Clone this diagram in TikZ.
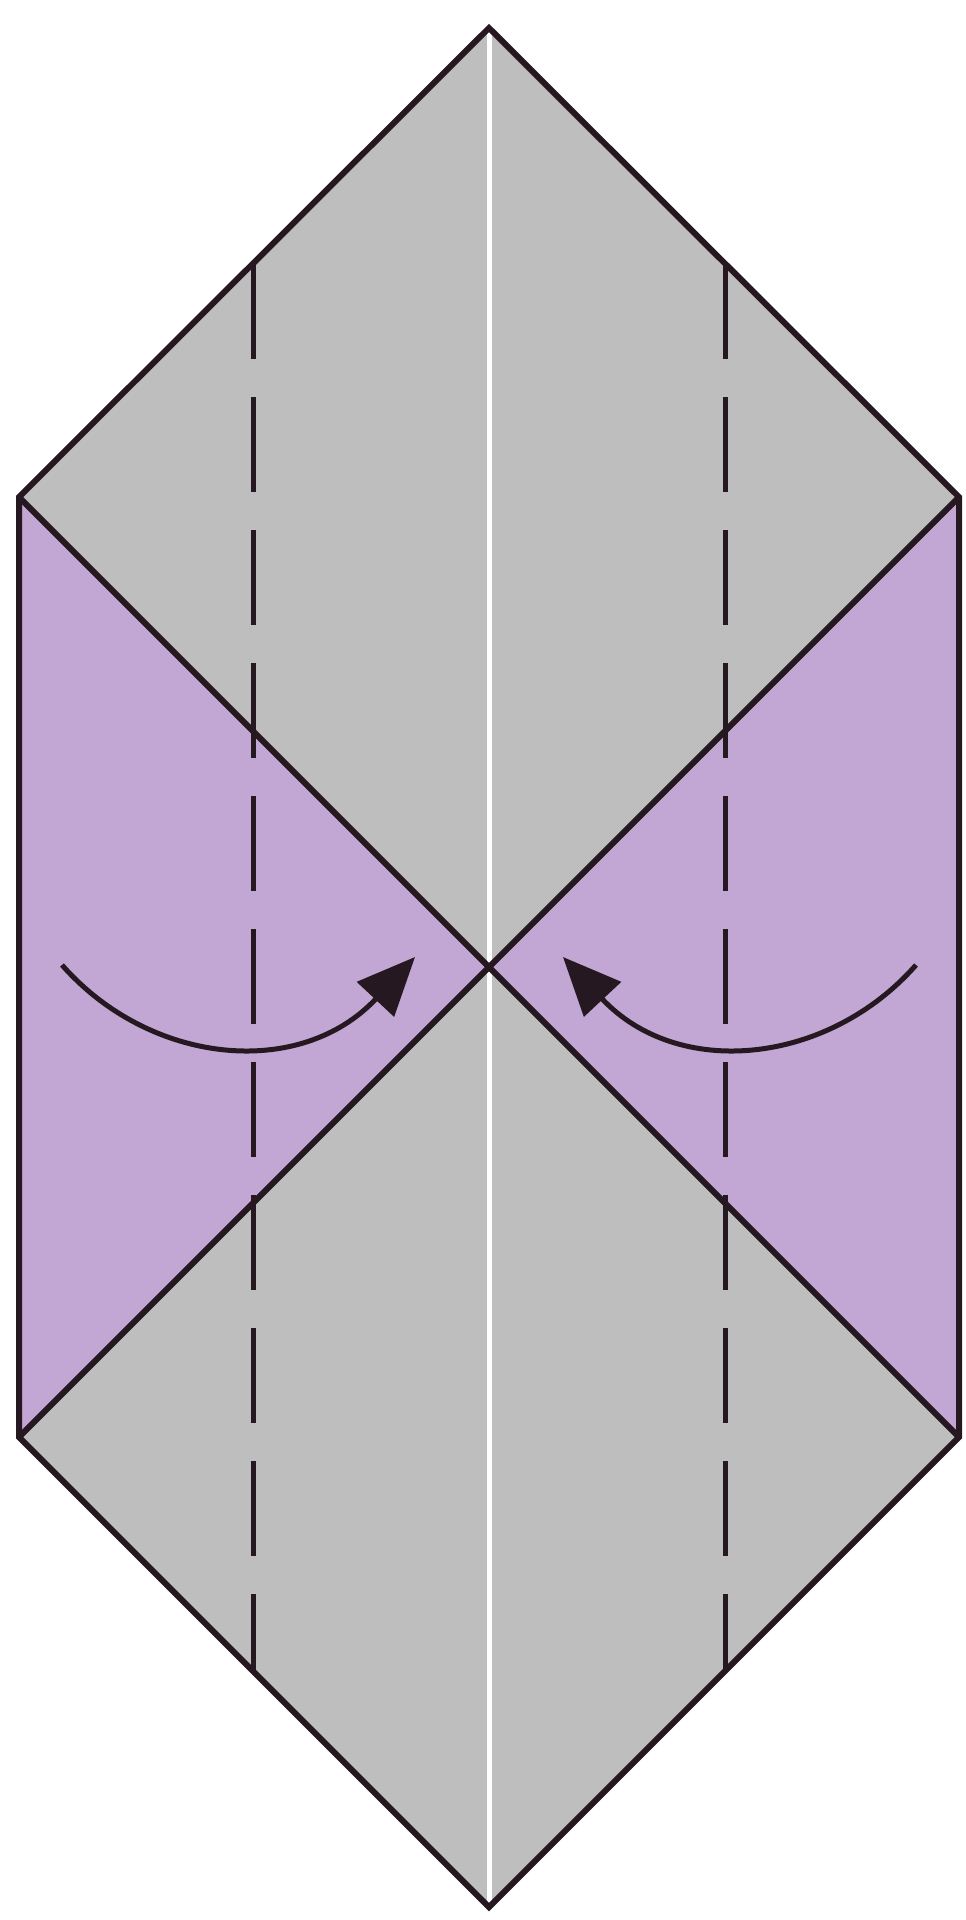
\documentclass[tikz,border=0pt]{standalone}
\usepackage{xcolor}
\usepackage{tikz}
\usetikzlibrary{
	arrows.meta,
	calc
}
\definecolor{papergray}{RGB}{190,190,190}
\definecolor{paperlilac}{RGB}{194,166,211}
\definecolor{inkdark}{RGB}{38,24,32}
\tikzset{
	edge/.style={line width=6pt, draw=inkdark, line join=miter},
	valley/.style={line width=5pt, draw=inkdark, dash pattern=on 95pt off 38pt},
	foldarrow/.style={line width=5pt, draw=inkdark, -{Triangle[length=58pt,width=50pt]}}
}

\begin{document}
\begin{tikzpicture}[x=1pt, y=-1pt]
		\useasboundingbox (0,0) rectangle (966,1920);
		\coordinate (T) at (489,28);
		\coordinate (UL) at (19,497);
		\coordinate (UR) at (959,497);
		\coordinate (LL) at (19,1437);
		\coordinate (LR) at (959,1437);
		\coordinate (B) at (489,1907);
		\coordinate (O) at (489,967);
		% paper
		\fill[papergray] (T)--(UR)--(LR)--(B)--(LL)--(UL)--cycle;
		\fill[paperlilac] (UL)--(O)--(LL)--cycle;
		\fill[paperlilac] (UR)--(O)--(LR)--cycle;
		\draw[white, line width=5pt] (T)--(B);
		% outline and creases
		\draw[edge] (T)--(UR)--(LR)--(B)--(LL)--(UL)--cycle;
		\draw[edge] (UL)--(LR);
		\draw[edge] (UR)--(LL);
		% valley folds
		\coordinate (P1) at (253,264);
		\coordinate (P2) at (253,1671);
		\coordinate (Q1) at (725,264);
		\coordinate (Q2) at (725,1671);
		\draw[valley] (P1)--(P2);
		\draw[valley] (Q1)--(Q2);
		% arrows
		\coordinate (S1) at (62,965);
		\coordinate (E1) at (415,957);
		\coordinate (S2) at (916,965);
		\coordinate (E2) at (563,957);
		\draw[foldarrow] (S1) .. controls (150,1065) and (300,1080) .. (E1);
		\draw[foldarrow] (S2) .. controls (828,1065) and (678,1080) .. (E2);
	\end{tikzpicture}
\end{document}
